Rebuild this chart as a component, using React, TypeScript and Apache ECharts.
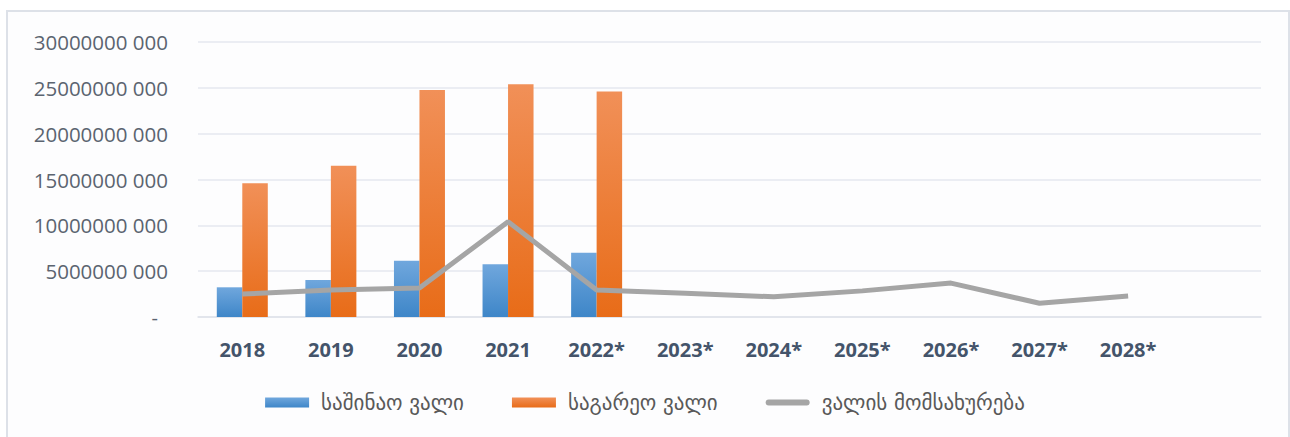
import React, { useEffect, useRef } from "react";
import * as echarts from "echarts";

const categories = ["2018", "2019", "2020", "2021", "2022*", "2023*", "2024*", "2025*", "2026*", "2027*", "2028*", ""];
const domesticDebt = [3.24e9, 4.04e9, 6.15e9, 5.75e9, 7.0e9, null, null, null, null, null, null, null];
const externalDebt = [14.6e9, 16.5e9, 24.76e9, 25.4e9, 24.6e9, null, null, null, null, null, null, null];
const debtService = [2.5e9, 2.95e9, 3.16e9, 10.4e9, 2.95e9, 2.6e9, 2.2e9, 2.85e9, 3.7e9, 1.5e9, 2.3e9, null];
const seriesNames = ["საშინაო ვალი", "საგარეო ვალი", "ვალის მომსახურება"];

const numFont = "'Open Sans', 'DejaVu Sans', sans-serif";
const geoFont = "'DejaVu Sans', 'Noto Sans', sans-serif";

function fmt(v: number): string {
  if (v === 0) return "{d|-}";
  const s = String(Math.round(v));
  return s.slice(0, -3) + " " + s.slice(-3);
}

export default function App() {
  const ref = useRef<HTMLDivElement>(null);
  useEffect(() => {
    document.body.style.margin = "0";
    const chart = echarts.init(ref.current!, undefined, { renderer: "svg" });
    chart.setOption({
      animation: false,
      backgroundColor: "#ffffff",
      graphic: [
        {
          type: "rect",
          z: -10,
          silent: true,
          shape: { x: 7, y: 11, width: 1282, height: 440 },
          style: { fill: "#fdfdfe", stroke: "#dde1e8", lineWidth: 2 },
        },
      ],
      grid: { left: 198, right: 29, top: 42, bottom: 120, containLabel: false },
      legend: {
        bottom: 19,
        left: "center",
        itemWidth: 44,
        itemHeight: 10,
        itemGap: 48,
        textStyle: { fontFamily: geoFont, fontSize: 21, color: "#595959", padding: [0, 0, 0, 7] },
        data: [
          { name: seriesNames[0], icon: "rect" },
          { name: seriesNames[1], icon: "rect" },
          { name: seriesNames[2], icon: "path://M3 0H41A3 3 0 0 1 41 6H3A3 3 0 0 1 3 0Z" },
        ],
      },
      xAxis: {
        type: "category",
        data: categories,
        axisTick: { show: false },
        axisLine: { lineStyle: { color: "#dfe2ea", width: 1.5 } },
        axisLabel: {
          interval: 0,
          margin: 22,
          fontFamily: numFont,
          fontWeight: "bold",
          fontSize: 20,
          color: "#44546a",
        },
      },
      yAxis: {
        type: "value",
        min: 0,
        max: 30e9,
        interval: 5e9,
        axisLine: { show: false },
        axisTick: { show: false },
        splitLine: { lineStyle: { color: "#e4e7ef", width: 1.5 } },
        axisLabel: {
          margin: 30,
          fontFamily: numFont,
          fontSize: 20.5,
          color: "#5b6470",
          formatter: fmt,
          rich: { d: { fontFamily: numFont, fontSize: 20, color: "#5b6470", padding: [0, 10, 0, 0] } },
        },
      },
      series: [
        {
          name: seriesNames[0],
          type: "bar",
          data: domesticDebt,
          barWidth: 25.5,
          barGap: "0%",
          itemStyle: {
            color: new echarts.graphic.LinearGradient(0, 0, 0, 1, [
              { offset: 0, color: "#70a7dd" },
              { offset: 1, color: "#3e86c8" },
            ]),
          },
        },
        {
          name: seriesNames[1],
          type: "bar",
          data: externalDebt,
          barWidth: 25.5,
          barGap: "0%",
          itemStyle: {
            color: new echarts.graphic.LinearGradient(0, 0, 0, 1, [
              { offset: 0, color: "#f19058" },
              { offset: 1, color: "#e86c18" },
            ]),
          },
        },
        {
          name: seriesNames[2],
          type: "line",
          data: debtService,
          symbol: "none",
          lineStyle: { color: "#a5a5a5", width: 5 },
          itemStyle: { color: "#a5a5a5" },
          z: 5,
        },
      ],
    });
    return () => chart.dispose();
  }, []);
  return <div ref={ref} style={{ position: "absolute", left: 0, top: 0, width: 1290, height: 437 }} />;
}
